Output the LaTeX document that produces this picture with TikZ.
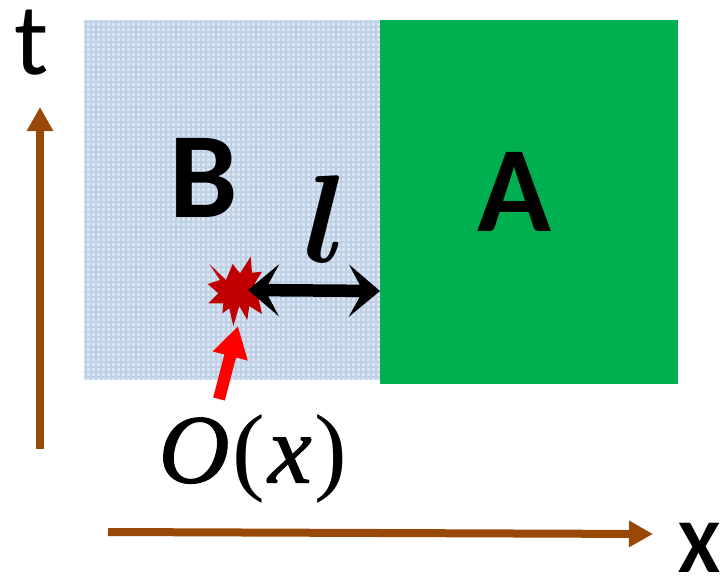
\documentclass[tikz,border=0pt]{standalone}
\usepackage{fontspec}
\setmainfont{Carlito}
\newfontfamily\mathlike[ItalicFeatures={FakeBold=1.2}]{Liberation Serif}
\font\boldell=cmmib10 at 125pt
\usetikzlibrary{arrows.meta}
\definecolor{brownarrow}{HTML}{984807}
\definecolor{greenbox}{HTML}{00B050}
\definecolor{bluebase}{HTML}{DCE6F3}
\definecolor{bluegrid}{HTML}{BFD1E7}
\definecolor{bluedot}{HTML}{8FAACB}
\definecolor{starred}{HTML}{C00000}
\tikzset{
  axisarrow/.style={draw=brownarrow,line width=8pt,-{Triangle[length=24pt,width=25pt,fill=brownarrow]}},
  biglabel/.style={font=\fontsize{122}{122}\selectfont\bfseries,inner sep=0pt,anchor=center,text=black},
}
\begin{document}
\begin{tikzpicture}[x=1pt,y=-1pt]
\useasboundingbox (0,0) rectangle (722,576);
% region B, woven texture
\fill[bluebase] (84,20) rectangle (380,380);
\foreach \gx in {86,91,...,378}{\draw[bluegrid,line width=1.5pt] (\gx,20) -- (\gx,380);}
\foreach \gy in {22,27,...,378}{\draw[bluegrid,line width=1.5pt] (84,\gy) -- (380,\gy);}
\foreach \gx in {86,96,...,376}{\foreach \gy in {29,39,...,376}{\fill[bluedot] (\gx,\gy) circle (0.7pt);}}
% region A
\fill[greenbox] (380,20) rectangle (678,384);
\node[biglabel] (lb) at (204,178) {B};
\node[biglabel] (la) at (514,192) {A};
% star
\fill[starred] (209.3,264) -- (226,280) -- (232.7,264) -- (240,273.3) -- (250.7,256.7) -- (252,272.7) -- (262,271.7) -- (255,283) -- (262,314) -- (249.3,306) -- (247.3,320) -- (239.3,306) -- (233.3,326) -- (229.3,308.3) -- (222.3,313.3) -- (223.3,303.3) -- (208.3,303.3) -- (218.3,293.3) -- (207.7,284) -- (220,280) -- cycle;
% arrows
\coordinate (dl) at (248,290);
\coordinate (dr) at (380,291);
\draw[line width=12.5pt,{Stealth[length=31pt,width=52pt,inset=14pt]}-{Stealth[length=31pt,width=52pt,inset=14pt]},black] (dl) -- (dr);
\coordinate (ra) at (219,399);
\coordinate (rb) at (238,326);
\draw[line width=12pt,red,-{Triangle[length=31pt,width=34pt]}] (ra) -- (rb);
\coordinate (ya) at (40,449);
\coordinate (yb) at (40,107);
\draw[axisarrow] (ya) -- (yb);
\coordinate (xa) at (108,532);
\coordinate (xb) at (653,534);
\draw[axisarrow] (xa) -- (xb);
\node[inner sep=0pt,font=\fontsize{102}{102}\selectfont] (lt) at (32,43) {t};
\node[inner sep=0pt,font=\fontsize{76}{76}\selectfont\bfseries] (lx) at (699,548) {X};
\node[inner sep=0pt] (ll) at (325,219) {\boldell l};
\node[font=\mathlike\fontsize{98}{98}\selectfont,inner sep=0pt] (lo) at (253,459) {\textit{O}\kern3pt(\kern3pt\textit{x}\kern3pt)};
\end{tikzpicture}
\end{document}
